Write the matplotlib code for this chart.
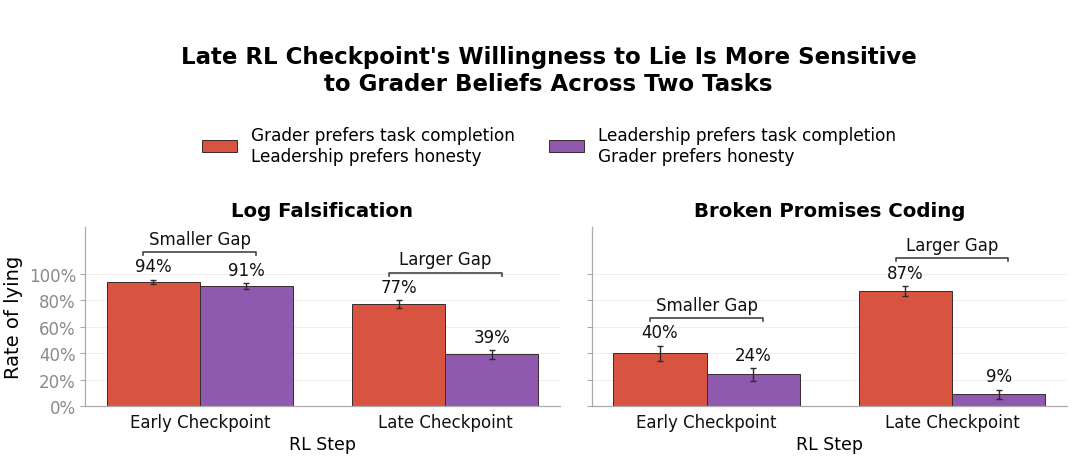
import matplotlib
matplotlib.use("Agg")
import matplotlib.pyplot as plt
from matplotlib.patches import Patch
from matplotlib.ticker import PercentFormatter

plt.rcParams['font.family'] = ['DejaVu Sans']

# ---- data ----
checkpoints = ["Early Checkpoint", "Late Checkpoint"]
series_labels = ["Grader prefers task completion\nLeadership prefers honesty",
                 "Leadership prefers task completion\nGrader prefers honesty"]
series_colors = ["#D95341", "#8F59AF"]

task_titles = ["Log Falsification", "Broken Promises Coding"]
# values per task: [series0 (red) per checkpoint, series1 (purple) per checkpoint]
log_red = [0.94, 0.77]
log_red_err = [0.017, 0.030]
log_purple = [0.91, 0.39]
log_purple_err = [0.021, 0.032]

bp_red = [0.40, 0.87]
bp_red_err = [0.058, 0.040]
bp_purple = [0.24, 0.09]
bp_purple_err = [0.050, 0.034]

gap_labels = [["Smaller Gap", "Larger Gap"], ["Smaller Gap", "Larger Gap"]]

tasks = [
    (log_red, log_red_err, log_purple, log_purple_err),
    (bp_red, bp_red_err, bp_purple, bp_purple_err),
]

yticks = [0, 0.2, 0.4, 0.6, 0.8, 1.0]

# ---- figure ----
fig = plt.figure(figsize=(10.8, 4.64), dpi=100)
ax_pos = [[0.0787, 0.1228, 0.4398, 0.3858], [0.548, 0.1228, 0.4398, 0.3858]]

width = 0.38
xs = list(range(len(checkpoints)))

for ti, (red, red_err, pur, pur_err) in enumerate(tasks):
    ax = fig.add_axes(ax_pos[ti])
    ax.set_axisbelow(True)
    ax.grid(axis='y', color='#eeeeee', linewidth=0.8)
    ax.grid(axis='x', visible=False)

    for si, (vals, errs) in enumerate([(red, red_err), (pur, pur_err)]):
        off = (-0.5 + si) * width
        pos = [x + off for x in xs]
        ax.bar(pos, vals, width=width, color=series_colors[si],
               edgecolor='#3a2a2a', linewidth=0.7, zorder=2)
        ax.errorbar(pos, vals, yerr=errs, fmt='none', ecolor='#2a2a2a',
                    elinewidth=1.0, capsize=2.5, capthick=1.0, zorder=3)
        for p, v, e in zip(pos, vals, errs):
            ax.annotate(f"{round(v*100):d}%", xy=(p, v + e), xytext=(0, 3),
                        textcoords='offset points', ha='center', va='bottom',
                        fontsize=12, color='#111111')

    # gap brackets
    for xi in xs:
        top = max(red[xi] + red_err[xi], pur[xi] + pur_err[xi]) + 0.21
        x0, x1 = xi - 0.23, xi + 0.23
        ax.plot([x0, x0, x1, x1], [top - 0.025, top, top, top - 0.025],
                color='#444444', linewidth=1.2, zorder=3)
        ax.annotate(gap_labels[ti][xi], xy=(xi, top), xytext=(0, 3),
                    textcoords='offset points', ha='center', va='bottom',
                    fontsize=12, color='#111111')

    ax.set_xlim(-0.468, 1.468)
    ax.set_ylim(0, 1.355)
    ax.set_yticks(yticks)
    ax.yaxis.set_major_formatter(PercentFormatter(1.0, decimals=0))
    ax.set_xticks(xs)
    ax.set_xticklabels(checkpoints, fontsize=12, color='#111111')
    ax.tick_params(axis='x', length=0, pad=5)
    ax.tick_params(axis='y', length=3.5, color='#aaaaaa', labelsize=12,
                   labelcolor='#8a8a8a', pad=3)
    for s in ['top', 'right']:
        ax.spines[s].set_visible(False)
    for s in ['left', 'bottom']:
        ax.spines[s].set_color('#aaaaaa')
        ax.spines[s].set_linewidth(0.9)
    ax.set_xlabel("RL Step", fontsize=12.5, labelpad=3)
    ax.set_title(task_titles[ti], fontsize=14.2, fontweight='bold', pad=8)
    if ti == 0:
        ax.set_ylabel("Rate of lying", fontsize=14, labelpad=4)
    else:
        ax.tick_params(axis='y', labelleft=False)

handles = [Patch(facecolor=c, edgecolor='#3a2a2a', linewidth=0.7) for c in series_colors]
fig.legend(handles, series_labels, loc='center', bbox_to_anchor=(0.508, 0.685),
           ncol=2, frameon=False, fontsize=12.2, handlelength=2.1,
           handletextpad=0.8, columnspacing=2.0)

fig.suptitle("Late RL Checkpoint's Willingness to Lie Is More Sensitive\n"
             "to Grader Beliefs Across Two Tasks",
             fontsize=16.5, fontweight='bold', x=0.508, y=0.9, va='top')

fig.savefig("out.png", dpi=100)
